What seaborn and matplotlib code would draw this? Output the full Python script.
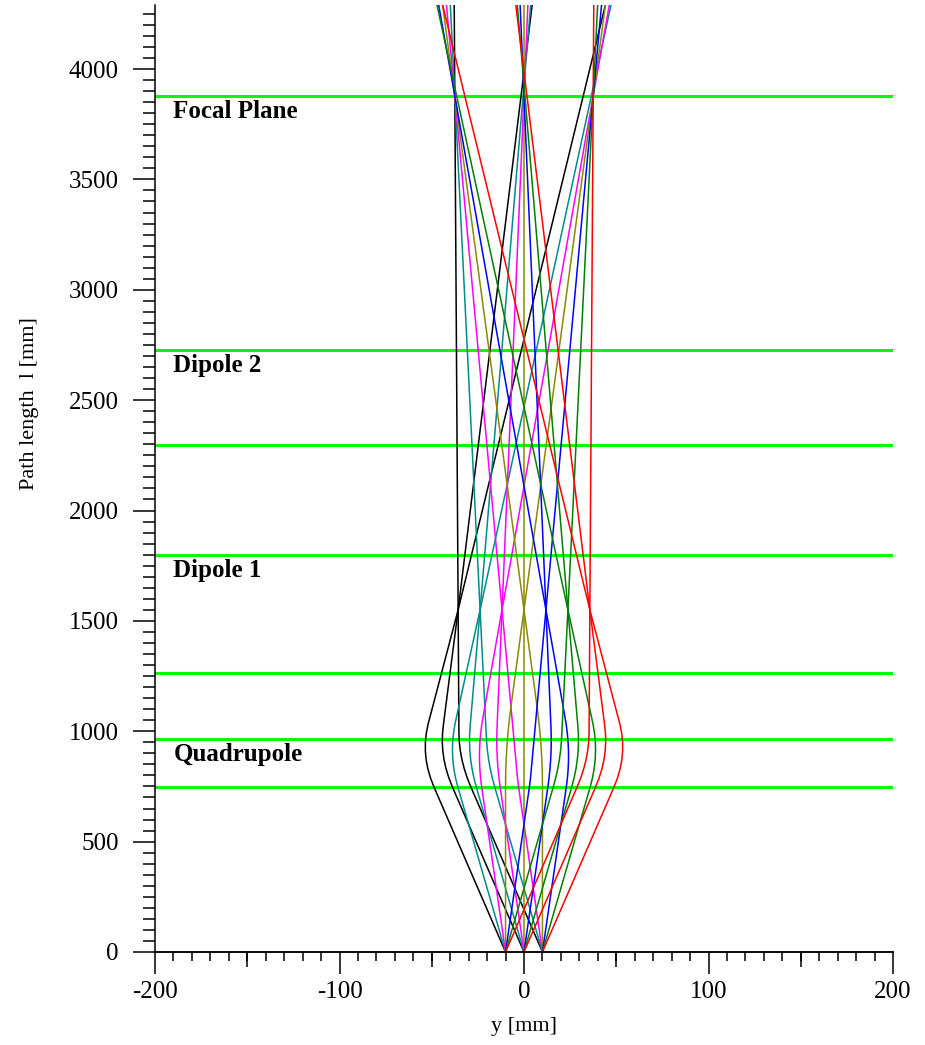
import matplotlib
matplotlib.use("Agg")
import matplotlib.pyplot as plt
import pandas as pd
import seaborn as sns
from matplotlib.ticker import MultipleLocator, FixedLocator, NullFormatter

# ---- data ----
# path-length stations [mm] at which each ray's transverse position y [mm] was read
path_l = [0, 748, 790, 830, 870, 910, 950, 990, 1030, 1070, 1110, 1550, 3878, 4290]

# rays starting at y = -10 mm
rays_from_minus10 = {
    "black":   [-10, -48.82, -50.75, -52.11, -53.02, -53.46, -53.45, -52.97, -52.04, -50.79, -49.53, -35.7, 32.1, 44.10],
    "teal":    [-10, -35.88, -37.15, -38.03, -38.57, -38.79, -38.68, -38.23, -37.47, -36.44, -35.39, -23.8, 36.5, 47.17],
    "magenta": [-10, -22.94, -23.56, -23.94, -24.13, -24.12, -23.90, -23.49, -22.89, -22.09, -21.24, -11.9, 37.5, 46.24],
    "olive":   [-10, -10.00, -9.96, -9.85, -9.67, -9.42, -9.09, -8.70, -8.23, -7.70, -7.09, 0.0, 37.5, 44.14],
    "blue":    [-10, 2.94, 3.54, 3.98, 4.42, 4.86, 5.30, 5.74, 6.18, 6.62, 7.06, 11.9, 37.5, 42.03],
    "green":   [-10, 15.88, 17.22, 18.29, 19.14, 19.80, 20.24, 20.50, 20.74, 20.98, 21.21, 23.8, 37.5, 39.92],
    "red":     [-10, 28.82, 30.82, 32.37, 33.60, 34.49, 35.05, 35.27, 35.30, 35.33, 35.36, 35.7, 37.5, 37.82],
}

# rays starting at y = 0 mm
rays_from_0 = {
    "black":   [0, -38.82, -40.78, -42.25, -43.32, -44.00, -44.28, -44.17, -43.67, -43.06, -42.45, -35.7, -1.6, 4.43],
    "teal":    [0, -25.88, -27.19, -28.17, -28.88, -29.33, -29.52, -29.45, -29.12, -28.71, -28.30, -23.8, -0.5, 3.62],
    "magenta": [0, -12.94, -13.59, -14.08, -14.44, -14.67, -14.76, -14.72, -14.56, -14.35, -14.15, -11.9, 0.0, 2.11],
    "olive":   [0, 0.0, 0.0, 0.0, 0.0, 0.0, 0.0, 0.0, 0.0, 0.0, 0.0, 0.0, 0.0, 0.0],
    "blue":    [0, 12.94, 13.59, 14.08, 14.44, 14.67, 14.76, 14.72, 14.56, 14.35, 14.15, 11.9, 0.0, -2.11],
    "green":   [0, 25.88, 27.19, 28.17, 28.88, 29.33, 29.52, 29.45, 29.12, 28.71, 28.30, 23.8, 0.5, -3.62],
    "red":     [0, 38.82, 40.78, 42.25, 43.32, 44.00, 44.28, 44.17, 43.67, 43.06, 42.45, 35.7, 1.6, -4.43],
}

# rays starting at y = +10 mm
rays_from_plus10 = {
    "black":   [10, -28.82, -30.82, -32.37, -33.60, -34.49, -35.05, -35.27, -35.30, -35.33, -35.36, -35.7, -37.5, -37.82],
    "teal":    [10, -15.88, -17.22, -18.29, -19.14, -19.80, -20.24, -20.50, -20.74, -20.98, -21.21, -23.8, -37.5, -39.92],
    "magenta": [10, -2.94, -3.54, -3.98, -4.42, -4.86, -5.30, -5.74, -6.18, -6.62, -7.06, -11.9, -37.5, -42.03],
    "olive":   [10, 10.00, 9.96, 9.85, 9.67, 9.42, 9.09, 8.70, 8.23, 7.70, 7.09, 0.0, -37.5, -44.14],
    "blue":    [10, 22.94, 23.56, 23.94, 24.13, 24.12, 23.90, 23.49, 22.89, 22.09, 21.24, 11.9, -37.5, -46.24],
    "green":   [10, 35.88, 37.15, 38.03, 38.57, 38.79, 38.68, 38.23, 37.47, 36.44, 35.39, 23.8, -36.5, -47.17],
    "red":     [10, 48.82, 50.75, 52.11, 53.02, 53.46, 53.45, 52.97, 52.04, 50.79, 49.53, 35.7, -32.1, -44.10],
}

# element boundaries (green lines) and labels
element_edges = [748, 966, 1265, 1800, 2299, 2726, 3878]
element_names = ["Quadrupole", "Dipole 1", "Dipole 2", "Focal Plane"]
element_name_l = [966, 1800, 2726, 3878]

x_ticks = [-200, -100, 0, 100, 200]
x_mid_ticks = [-150, -50, 50, 150]
y_ticks = [0, 500, 1000, 1500, 2000, 2500, 3000, 3500, 4000]

ray_colors = {
    "black": "#000000",
    "teal": "#008c8c",
    "magenta": "#ff00ff",
    "olive": "#8a8a00",
    "blue": "#0000ff",
    "green": "#008000",
    "red": "#ff0000",
}

# ---- build long table ----
records = []
for origin, rays in [(-10, rays_from_minus10), (0, rays_from_0), (10, rays_from_plus10)]:
    for color, ys in rays.items():
        for l, y in zip(path_l, ys):
            records.append({"ray": f"{origin}_{color}", "color": color, "y": y, "l": l})
df = pd.DataFrame(records)

# ---- plot ----
sns.set_style("ticks")
plt.rcParams["font.family"] = ["Liberation Serif", "DejaVu Serif"]
plt.rcParams["axes.unicode_minus"] = False
plt.rcParams["text.color"] = "black"
plt.rcParams["axes.labelcolor"] = "black"
plt.rcParams["xtick.color"] = "black"
plt.rcParams["ytick.color"] = "black"

W, H = 925, 1045
fig = plt.figure(figsize=(W / 100, H / 100), dpi=100)
ax = fig.add_axes([155 / W, 1 - 952 / H, 738 / W, 947 / H])

for e in element_edges:
    ax.axhline(e, color="#00ff00", lw=2.2, zorder=1)

sns.lineplot(
    data=df, x="y", y="l", hue="color", units="ray", estimator=None,
    sort=False, palette=ray_colors, legend=False, lw=1.1, ax=ax, zorder=2,
)

for name, l in zip(element_names, element_name_l):
    ax.text(-190, l - 70, name, fontsize=18, fontweight="bold", color="black",
            ha="left", va="center", zorder=3)

ax.set_xlim(-200, 200)
ax.set_ylim(0, 4290)

for s in ["top", "right"]:
    ax.spines[s].set_visible(False)
for s in ["left", "bottom"]:
    ax.spines[s].set_linewidth(1.1)
    ax.spines[s].set_color("black")

ax.set_xticks(x_ticks)
ax.set_xticklabels([str(v) for v in x_ticks])
ax.xaxis.set_minor_locator(MultipleLocator(10))
ax.set_yticks(y_ticks)
ax.set_yticklabels([str(v) for v in y_ticks])
ax.yaxis.set_minor_locator(MultipleLocator(50))

ax.tick_params(axis="x", which="major", direction="out", length=16, width=1.1,
               labelsize=18, pad=5, colors="black")
ax.tick_params(axis="x", which="minor", direction="out", length=6.5, width=1.1, colors="black")
ax.tick_params(axis="y", which="major", direction="out", length=16, width=1.1,
               labelsize=18, pad=10, colors="black")
ax.tick_params(axis="y", which="minor", direction="out", length=8.5, width=1.1, colors="black")

# medium-length ticks at the 50 mm marks
sec = ax.secondary_xaxis("bottom")
sec.xaxis.set_major_locator(FixedLocator(x_mid_ticks))
sec.xaxis.set_major_formatter(NullFormatter())
sec.tick_params(axis="x", which="major", direction="out", length=11, width=1.1, colors="black")
sec.xaxis.set_minor_locator(FixedLocator([]))
sec.spines["bottom"].set_linewidth(1.1)
sec.spines["bottom"].set_color("black")

ax.set_xlabel("y [mm]", fontsize=16, color="black")
ax.set_ylabel("Path length  l [mm]", fontsize=16, color="black")
ax.xaxis.label.set_va("center")
ax.yaxis.label.set_va("center")
ax.xaxis.set_label_coords(0.5, (952 - 1027) / 947)
ax.yaxis.set_label_coords((29 - 155) / 738, (952 - 404) / 947)

fig.savefig("out.png", dpi=100)
